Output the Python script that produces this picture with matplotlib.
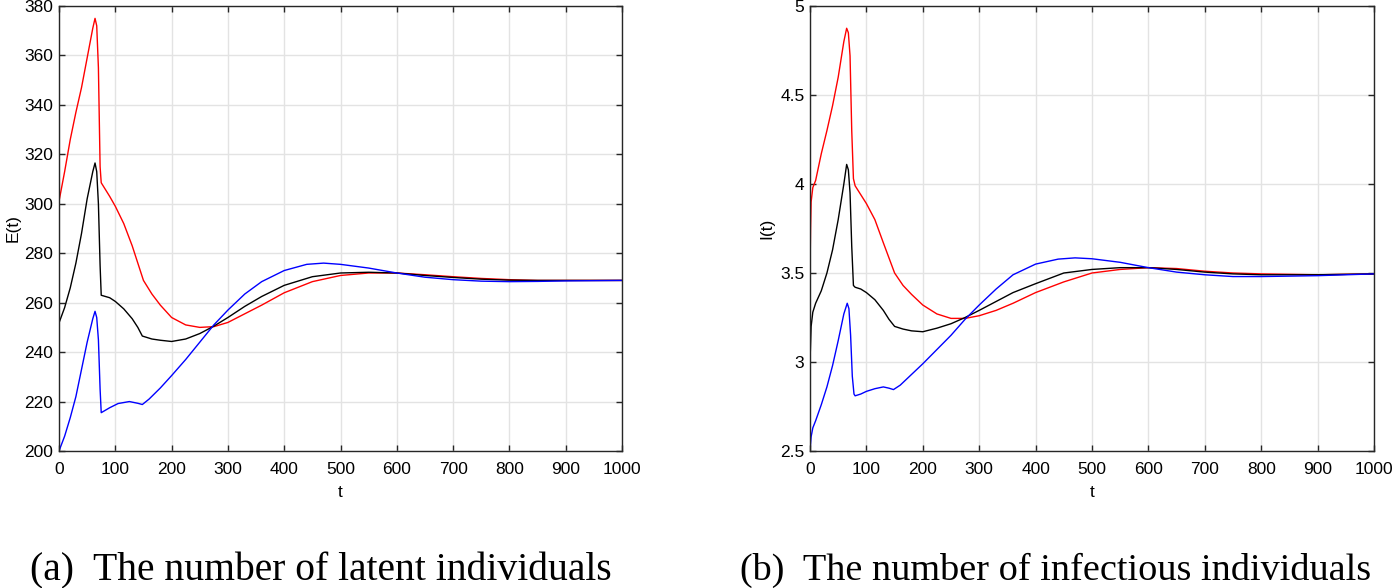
import matplotlib
matplotlib.use("Agg")
import matplotlib.pyplot as plt
import numpy as np

# ---- data ----
# (a) latent individuals E(t)
t_E_red = [0, 10, 20, 30, 40, 50, 60, 64, 67, 70, 73, 75, 90, 100, 115, 130, 140,
           150, 165, 180, 200, 225, 250, 275, 300, 330, 360, 400, 450, 500, 550,
           600, 650, 700, 750, 800, 850, 900, 1000]
E_red = [301, 313, 326, 337, 347, 359, 371, 375, 372, 355, 315, 308.5, 303, 299,
         292, 283, 276, 269, 263.5, 259, 254, 251, 250, 250.3, 252, 255.5, 259,
         264, 268.5, 271, 272, 272, 271.3, 270.5, 269.8, 269.3, 269, 269, 269]

t_E_black = [0, 10, 20, 30, 40, 50, 60, 64, 67, 70, 73, 75, 90, 100, 115, 130, 140,
             148, 165, 180, 200, 225, 250, 275, 300, 330, 360, 400, 450, 500, 550,
             600, 650, 700, 750, 800, 850, 900, 1000]
E_black = [251.8, 258, 266, 276, 288, 302, 313, 316.5, 313, 300, 275, 263, 262,
           260.5, 257.5, 253.5, 250, 246.5, 245.3, 244.8, 244.3, 245.3, 247.5,
           250.5, 254, 258.5, 262.5, 267, 270.5, 272, 272.3, 272, 271, 270.2,
           269.5, 269.1, 269, 269, 269]

t_E_blue = [0, 10, 20, 30, 40, 50, 60, 64, 67, 70, 73, 75, 90, 105, 125, 140, 148,
            160, 180, 200, 225, 250, 275, 300, 330, 360, 400, 440, 470, 500, 550,
            600, 650, 700, 750, 800, 850, 900, 1000]
E_blue = [200, 206, 213.5, 222, 233, 244, 253.5, 256.5, 254, 245, 225, 215.5, 217.5,
          219.2, 220, 219.3, 218.8, 221, 225.5, 230.5, 237, 244, 251, 257, 263.5,
          268.5, 273, 275.5, 276, 275.5, 274, 272, 270.3, 269.3, 268.7, 268.5,
          268.6, 268.8, 269]

# (b) infectious individuals I(t)
t_I_red = [0, 1, 2, 5, 10, 20, 30, 40, 50, 60, 65, 68, 71, 74, 77, 80, 90, 100, 115,
           130, 150, 165, 180, 200, 225, 250, 275, 300, 330, 360, 400, 450, 500,
           550, 600, 650, 700, 750, 800, 900, 1000]
I_red = [3.5, 3.75, 3.9, 3.98, 4.02, 4.17, 4.3, 4.44, 4.6, 4.8, 4.875, 4.85, 4.72,
         4.3, 4.03, 3.99, 3.94, 3.89, 3.8, 3.67, 3.5, 3.43, 3.38, 3.32, 3.27, 3.245,
         3.245, 3.26, 3.29, 3.33, 3.39, 3.45, 3.5, 3.52, 3.53, 3.525, 3.51, 3.5,
         3.495, 3.49, 3.495]

t_I_black = [0, 2, 5, 10, 20, 30, 40, 50, 60, 65, 68, 71, 74, 77, 80, 90, 100, 115,
             130, 140, 150, 165, 180, 200, 225, 250, 275, 300, 330, 360, 400, 450,
             500, 550, 600, 650, 700, 750, 800, 900, 1000]
I_black = [3.0, 3.2, 3.28, 3.33, 3.4, 3.5, 3.63, 3.8, 4.0, 4.11, 4.08, 3.95, 3.65,
           3.43, 3.42, 3.41, 3.39, 3.35, 3.29, 3.24, 3.2, 3.185, 3.175, 3.17, 3.19,
           3.215, 3.25, 3.29, 3.34, 3.39, 3.44, 3.5, 3.52, 3.53, 3.53, 3.52, 3.505,
           3.495, 3.49, 3.49, 3.495]

t_I_blue = [0, 2, 5, 10, 20, 30, 40, 50, 60, 66, 69, 72, 75, 78, 80, 90, 100, 115,
            130, 140, 148, 160, 180, 200, 225, 250, 275, 300, 330, 360, 400, 440,
            470, 500, 550, 600, 650, 700, 750, 800, 900, 1000]
I_blue = [2.5, 2.58, 2.63, 2.67, 2.76, 2.86, 2.98, 3.12, 3.27, 3.33, 3.3, 3.15, 2.92,
          2.82, 2.81, 2.82, 2.835, 2.85, 2.86, 2.853, 2.845, 2.87, 2.93, 2.99, 3.07,
          3.15, 3.24, 3.32, 3.41, 3.49, 3.55, 3.578, 3.585, 3.58, 3.56, 3.53, 3.505,
          3.49, 3.48, 3.48, 3.485, 3.495]

x_ticks = np.arange(0, 1001, 100)
E_ticks = np.arange(200, 381, 20)
I_ticks = [2.5, 3, 3.5, 4, 4.5, 5]
I_ticklabels = ["2.5", "3", "3.5", "4", "4.5", "5"]

plt.rcParams["font.family"] = ["Liberation Sans", "DejaVu Sans"]
plt.rcParams["font.size"] = 12.5

fig = plt.figure(figsize=(13.96, 5.88), dpi=100)
ax1 = fig.add_axes([59 / 1396, 137 / 588, 563 / 1396, 445 / 588])
ax2 = fig.add_axes([810 / 1396, 137 / 588, 564 / 1396, 445 / 588])


def style_axis(ax):
    ax.grid(True, color="#e3e3e3", linewidth=1.0)
    ax.set_axisbelow(True)
    for sp in ax.spines.values():
        sp.set_color("#262626")
        sp.set_linewidth(1.0)
    ax.tick_params(direction="in", length=4, width=1.0, top=True, right=True,
                   colors="#262626", labelcolor="black", pad=4)
    ax.tick_params(axis="x", pad=8)
    ax.set_xlim(0, 1000)
    ax.set_xticks(x_ticks)
    ax.set_xlabel("t", labelpad=6)


ax1.plot(t_E_red, E_red, color="red", lw=1.0)
ax1.plot(t_E_black, E_black, color="black", lw=1.0)
ax1.plot(t_E_blue, E_blue, color="blue", lw=1.0)
style_axis(ax1)
ax1.set_ylim(200, 380)
ax1.set_yticks(E_ticks)
ax1.set_ylabel("E(t)", labelpad=3)

ax2.plot(t_I_red, I_red, color="red", lw=1.0)
ax2.plot(t_I_black, I_black, color="black", lw=1.0)
ax2.plot(t_I_blue, I_blue, color="blue", lw=1.0)
style_axis(ax2)
ax2.set_ylim(2.5, 5)
ax2.set_yticks(I_ticks)
ax2.set_yticklabels(I_ticklabels)
ax2.set_ylabel("I(t)", labelpad=4)

cap = dict(family=["Liberation Serif", "DejaVu Serif"], ha="left", va="baseline")
fig.text(30 / 1396, 8 / 588, "(a)  The number of latent individuals",
         fontsize=28.5, **cap)
fig.text(740 / 1396, 8 / 588, "(b)  The number of infectious individuals",
         fontsize=27.5, **cap)

fig.savefig("out.png", dpi=100)
